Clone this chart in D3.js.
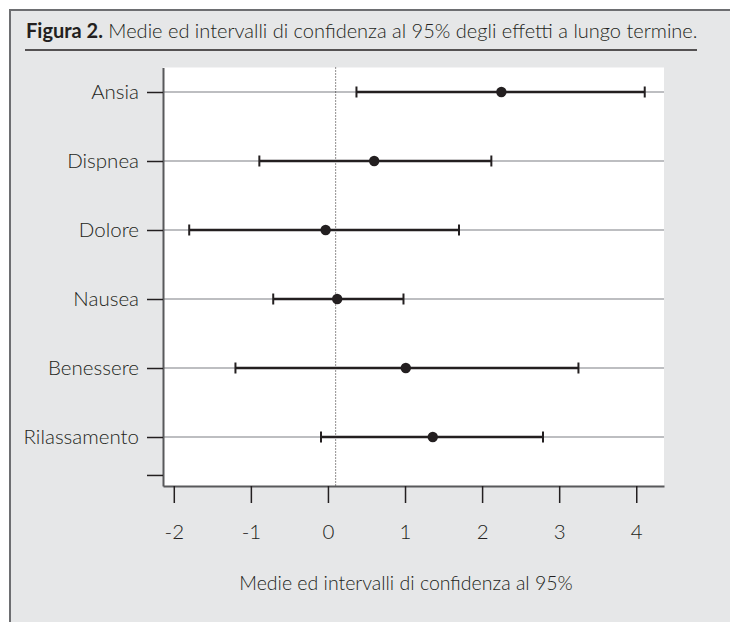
<!DOCTYPE html>
<html>
<head>
<meta charset="utf-8">
<script src="https://cdn.jsdelivr.net/npm/d3@7"></script>
<style>
  body { margin: 0; background: #fff; }
  text { font-family: Lato, "Open Sans", sans-serif; fill: #231f20; }
</style>
</head>
<body>
<div id="outer"></div>
<script>
////////// DATA //////////
const categories = ['Ansia', 'Dispnea', 'Dolore', 'Nausea', 'Benessere', 'Rilassamento'];
const means = [2.25, 0.60, -0.03, 0.12, 1.01, 1.36];
const lower = [0.37, -0.89, -1.80, -0.71, -1.20, -0.09];
const upper = [4.11, 2.12, 1.70, 0.98, 3.25, 2.79];
const xTicks = [-2, -1, 0, 1, 2, 3, 4];
const refLine = 0.1;

////////// SIZING //////////
const width = 730, height = 622;
const plot = {left: 163, right: 664, top: 67.5, bottom: 486};

const svg = d3.select('#outer').append('svg')
  .attr('width', width)
  .attr('height', height);

// FRAME //
svg.append('rect')
  .attr('x', 10).attr('y', 10)
  .attr('width', 760).attr('height', 660)
  .attr('fill', '#e6e7e8')
  .attr('stroke', '#6d6e71')
  .attr('stroke-width', 2);

// TITLE //
const title = svg.append('text')
  .attr('x', 26).attr('y', 38)
  .style('font-size', '20px');
title.append('tspan').style('font-weight', 700).text('Figura 2.');
title.append('tspan').style('font-weight', 300).text(' Medie ed intervalli di confidenza al 95% degli effetti a lungo termine.');

svg.append('line')
  .attr('x1', 25).attr('x2', 697)
  .attr('y1', 50).attr('y2', 50)
  .attr('stroke', '#231f20')
  .attr('stroke-width', 1.5);

// SCALES //
const x = d3.scaleLinear().domain([-2.14, 4.36]).range([plot.left, plot.right]);
const y = d3.scaleLinear().domain([0.645, 6.71]).range([plot.top, plot.bottom]);

svg.append('rect')
  .attr('x', plot.left).attr('y', plot.top)
  .attr('width', plot.right - plot.left)
  .attr('height', plot.bottom - plot.top)
  .attr('fill', '#fff');

// GRID //
svg.append('g').selectAll('line')
  .data(categories)
  .join('line')
    .attr('x1', plot.left).attr('x2', plot.right)
    .attr('y1', (d, i) => y(i + 1)).attr('y2', (d, i) => y(i + 1))
    .attr('stroke', '#a7a9ac')
    .attr('stroke-width', 1.5);

// REFERENCE LINE //
svg.append('line')
  .attr('x1', x(refLine)).attr('x2', x(refLine))
  .attr('y1', plot.top).attr('y2', plot.bottom)
  .attr('stroke', '#231f20')
  .attr('stroke-width', 1)
  .attr('stroke-dasharray', '1,2');

// AXES //
const yAxis = svg.append('g')
  .attr('transform', `translate(${plot.left},0)`)
  .call(d3.axisLeft(y)
    .tickValues([1, 2, 3, 4, 5, 6, 6.55])
    .tickFormat(v => categories[v - 1] || '')
    .tickSize(16).tickSizeOuter(0).tickPadding(8));

const xAxis = svg.append('g')
  .attr('transform', `translate(0,${plot.bottom})`)
  .call(d3.axisBottom(x)
    .tickValues(xTicks)
    .tickFormat(d3.format('d'))
    .tickSize(17).tickSizeOuter(0).tickPadding(21));

[yAxis, xAxis].forEach(ax => {
  ax.select('.domain').attr('stroke', '#58595b').attr('stroke-width', 2);
  ax.selectAll('.tick line').attr('stroke', '#231f20').attr('stroke-width', 1.5);
  ax.selectAll('.tick text')
    .style('font-size', '20.5px')
    .style('font-weight', 300)
    .attr('fill', '#231f20');
});
xAxis.selectAll('.tick text').text(d => d < 0 ? '-' + Math.abs(d) : d);

svg.append('text')
  .attr('x', 406).attr('y', 590)
  .attr('text-anchor', 'middle')
  .style('font-size', '19.5px')
  .style('font-weight', 300)
  .text('Medie ed intervalli di confidenza al 95%');

// ERROR BARS //
const capHalf = 5.5;
const bars = svg.append('g').selectAll('g')
  .data(categories.map((c, i) => ({c, i, m: means[i], lo: lower[i], hi: upper[i]})))
  .join('g');

bars.append('line')
  .attr('x1', d => x(d.lo)).attr('x2', d => x(d.hi))
  .attr('y1', d => y(d.i + 1)).attr('y2', d => y(d.i + 1))
  .attr('stroke', '#231f20').attr('stroke-width', 2.5);

bars.selectAll('.cap')
  .data(d => [d.lo, d.hi].map(v => ({v, i: d.i})))
  .join('line')
    .attr('class', 'cap')
    .attr('x1', d => x(d.v)).attr('x2', d => x(d.v))
    .attr('y1', d => y(d.i + 1) - capHalf).attr('y2', d => y(d.i + 1) + capHalf)
    .attr('stroke', '#231f20').attr('stroke-width', 2);

bars.append('circle')
  .attr('cx', d => x(d.m))
  .attr('cy', d => y(d.i + 1))
  .attr('r', 5.2)
  .attr('fill', '#231f20');
</script>
</body>
</html>
